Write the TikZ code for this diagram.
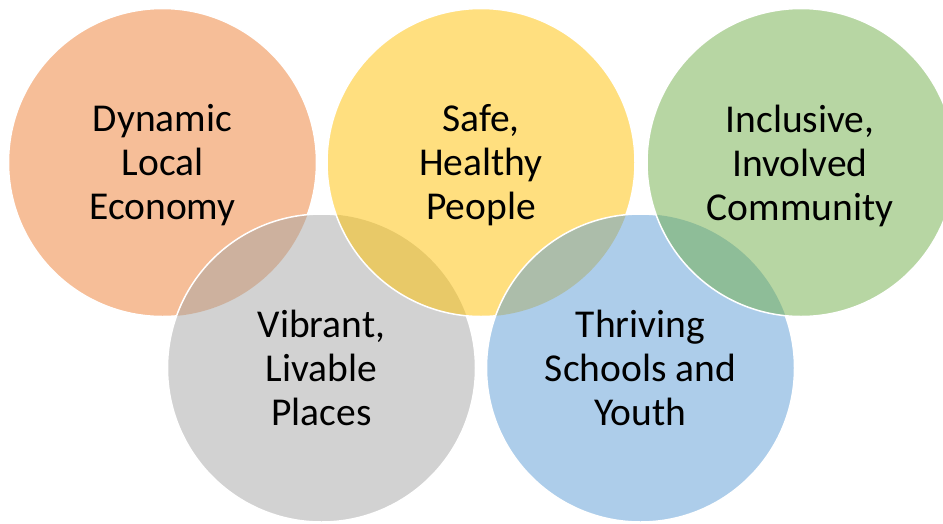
\documentclass[tikz,border=0pt]{standalone}
\usepackage{fontspec}
\setmainfont{Carlito}
\definecolor{cOrange}{HTML}{ED7D31}
\definecolor{cGray}{HTML}{A5A5A5}
\definecolor{cGold}{HTML}{FFC000}
\definecolor{cBlue}{HTML}{5B9BD5}
\definecolor{cGreen}{HTML}{70AD47}
\begin{document}
\begin{tikzpicture}[x=1pt,y=-1pt,
  disc/.style={fill opacity=0.5},
  rim/.style={draw=white,line width=1.5pt},
  txt/.style={align=center,font=\fontsize{39.5}{44}\selectfont,text=black,inner sep=0pt}]
\useasboundingbox (0,0) rectangle (943,523);
\clip (0,0) rectangle (943,523);
\coordinate (cO) at (162.5,162.5);
\coordinate (cY) at (481,162.5);
\coordinate (cN) at (801,162.5);
\coordinate (cG) at (321.5,368);
\coordinate (cB) at (640.5,368);
% fills in stacking order
\fill[disc,cOrange] (cO) circle (154pt);
\fill[disc,cGray] (cG) circle (154pt);
\fill[disc,cGold] (cY) circle (154pt);
\fill[disc,cBlue] (cB) circle (154pt);
\fill[disc,cGreen] (cN) circle (154pt);
% white rims, hidden under later discs
\begin{scope}[even odd rule]
  \clip (-10,-10) rectangle (960,540) (cG) circle (154pt);
  \draw[rim] (cO) circle (154pt);
\end{scope}
\begin{scope}[even odd rule]
  \clip (-10,-10) rectangle (960,540) (cY) circle (154pt);
  \draw[rim] (cG) circle (154pt);
\end{scope}
\begin{scope}[even odd rule]
  \clip (-10,-10) rectangle (960,540) (cB) circle (154pt);
  \draw[rim] (cY) circle (154pt);
\end{scope}
\begin{scope}[even odd rule]
  \clip (-10,-10) rectangle (960,540) (cN) circle (154pt);
  \draw[rim] (cB) circle (154pt);
\end{scope}
\draw[rim] (cN) circle (154pt);
% texts
\node[txt] (tO) at (162.5,165.5) {Dynamic\\Local\\Economy};
\node[txt] (tY) at (481,165.5) {Safe,\\Healthy\\People};
\node[txt] (tN) at (800,165.5) {Inclusive,\\Involved\\Community};
\node[txt] (tG) at (321.5,368) {Vibrant,\\Livable\\Places};
\node[txt] (tB) at (640.5,368) {Thriving\\Schools and\\Youth};
\end{tikzpicture}
\end{document}
